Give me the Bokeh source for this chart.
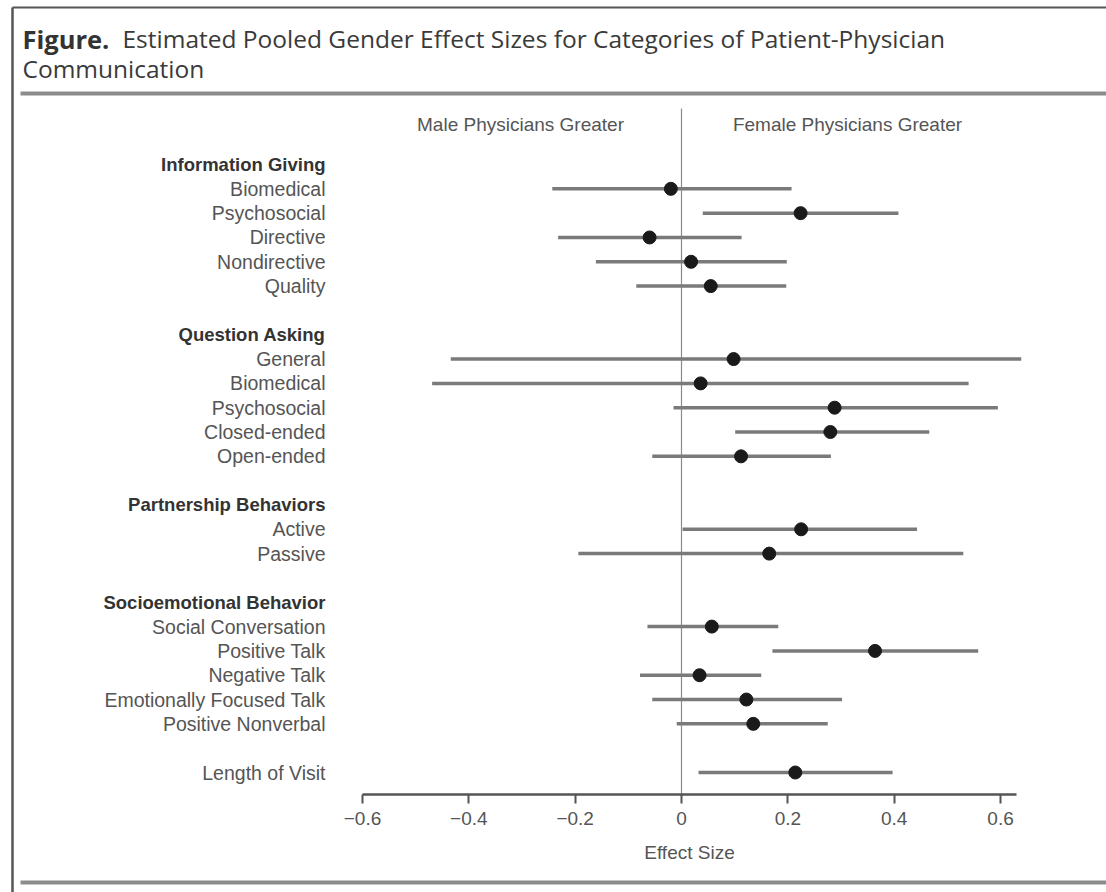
from bokeh.plotting import figure
from bokeh.models import ColumnDataSource, Range1d, LinearAxis, FixedTicker
from bokeh.core.properties import value
from bokeh.embed import file_html
from bokeh.resources import INLINE

# ---------------- data ----------------
title_bold = "Figure."
title_line1 = "Estimated Pooled Gender Effect Sizes for Categories of Patient-Physician"
title_line2 = "Communication"
side_left = "Male Physicians Greater"
side_right = "Female Physicians Greater"
x_label = "Effect Size"

group_names = ["Information Giving", "Question Asking", "Partnership Behaviors",
               "Socioemotional Behavior", None]
item_names = ["Biomedical", "Psychosocial", "Directive", "Nondirective", "Quality",
              "General", "Biomedical", "Psychosocial", "Closed-ended", "Open-ended",
              "Active", "Passive",
              "Social Conversation", "Positive Talk", "Negative Talk",
              "Emotionally Focused Talk", "Positive Nonverbal",
              "Length of Visit"]
item_group = [0, 0, 0, 0, 0, 1, 1, 1, 1, 1, 2, 2, 3, 3, 3, 3, 3, 4]
effect = [-0.020, 0.224, -0.060, 0.018, 0.055,
          0.098, 0.036, 0.288, 0.280, 0.112,
          0.225, 0.165,
          0.057, 0.364, 0.034, 0.122, 0.135,
          0.214]
ci_low = [-0.243, 0.040, -0.232, -0.161, -0.085,
          -0.434, -0.469, -0.015, 0.101, -0.055,
          0.002, -0.194,
          -0.064, 0.171, -0.078, -0.055, -0.009,
          0.032]
ci_high = [0.207, 0.408, 0.113, 0.198, 0.197,
           0.639, 0.540, 0.595, 0.466, 0.281,
           0.443, 0.530,
           0.182, 0.558, 0.150, 0.302, 0.275,
           0.397]
ticks = [-0.6, -0.4, -0.2, 0, 0.2, 0.4, 0.6]
tick_labels = ["\u22120.6", "\u22120.4", "\u22120.2", "0", "0.2", "0.4", "0.6"]

# ---------------- row layout ----------------
header_rows, header_text = [], []
item_rows = []
row = 0
for g, name in enumerate(group_names):
    if name is not None:
        header_rows.append(row)
        header_text.append(name)
        row += 1
    for k, gi in enumerate(item_group):
        if gi == g:
            item_rows.append(row)
            row += 1
    row += 1

# ---------------- geometry helpers (page pixels -> data) ----------------
W, H = 1106, 892
OX, OY = 0, 0
XZERO, XPER = 681.0, 531.7
YROW0, YSTEP = 164.0, 24.32


def X(px):
    return (px - XZERO) / XPER


def Y(py):
    return (py - YROW0) / YSTEP


p = figure(width=W, height=H, output_backend="svg", toolbar_location=None, tools="",
           x_range=Range1d(X(OX), X(OX + W)), y_range=Range1d(Y(OY + H), Y(OY)),
           x_axis_location=None, y_axis_location=None, min_border=0)
p.outline_line_color = None
p.background_fill_color = "white"
p.border_fill_color = "white"
for g in p.grid:
    g.visible = False

LABEL_FONT = value("Liberation Sans")
TITLE_FONT = value("Open Sans")

# frame decorations
p.segment(x0=[X(12)], y0=[Y(7)], x1=[X(12)], y1=[Y(OY + H)], line_color="#555555", line_width=2.5)
p.segment(x0=[X(12)], y0=[Y(7)], x1=[X(OX + W)], y1=[Y(7)], line_color="#555555", line_width=2)
p.segment(x0=[X(20)], y0=[Y(93)], x1=[X(OX + W)], y1=[Y(93)], line_color="#8c8c8c", line_width=4)
p.segment(x0=[X(20)], y0=[Y(882)], x1=[X(OX + W)], y1=[Y(882)], line_color="#8c8c8c", line_width=4)

# title
p.text(x=[X(22)], y=[Y(38)], text=[title_bold], text_font=TITLE_FONT,
       text_font_style="bold", text_font_size="25.5px", text_color="#333333",
       text_baseline="alphabetic", text_align="left")
p.text(x=[X(122)], y=[Y(38)], text=[title_line1], text_font=TITLE_FONT,
       text_font_size="24.5px", text_color="#3a3a3a",
       text_baseline="alphabetic", text_align="left")
p.text(x=[X(22)], y=[Y(68)], text=[title_line2], text_font=TITLE_FONT,
       text_font_size="24.5px", text_color="#3a3a3a",
       text_baseline="alphabetic", text_align="left")

# side headers
p.text(x=[X(520), X(847)], y=[Y(124), Y(124)], text=[side_left, side_right],
       text_font=LABEL_FONT, text_font_size="19px", text_color="#555555",
       text_align="center", text_baseline="middle")

# zero reference line
p.segment(x0=[0], y0=[Y(108)], x1=[0], y1=[Y(794)], line_color="#8a8a8a", line_width=1.2)

# row labels
p.text(x=[X(325)] * len(header_rows), y=header_rows, text=header_text,
       text_font=LABEL_FONT, text_font_style="bold", text_font_size="18.5px",
       text_color="#333333", text_align="right", text_baseline="middle")

src = ColumnDataSource(dict(y=item_rows, name=item_names, est=effect, lo=ci_low, hi=ci_high,
                            lx=[X(325)] * len(item_rows)))
p.text(x="lx", y="y", text="name", source=src,
       text_font=LABEL_FONT, text_font_size="19.5px", text_color="#555555",
       text_align="right", text_baseline="middle")

# CIs and estimates
p.segment(x0="lo", y0="y", x1="hi", y1="y", source=src, line_color="#7a7a7a", line_width=3.5)
p.scatter(x="est", y="y", source=src, size=13, fill_color="#1a1a1a", line_color="#1a1a1a")

# x axis
ax = LinearAxis(ticker=FixedTicker(ticks=ticks), fixed_location=Y(794),
                bounds=(-0.6, X(1016)))
ax.major_label_overrides = {t: l for t, l in zip(ticks, tick_labels)}
ax.axis_line_color = "#555555"
ax.axis_line_width = 2.5
ax.major_tick_line_color = "#555555"
ax.major_tick_line_width = 2
ax.major_tick_out = 9
ax.major_tick_in = 0
ax.minor_tick_out = 0
ax.minor_tick_in = 0
ax.major_label_standoff = 8
ax.major_label_text_font = "Liberation Sans"
ax.major_label_text_font_size = "19px"
ax.major_label_text_color = "#555555"
ax.axis_label = x_label
ax.axis_label_text_font = "Liberation Sans"
ax.axis_label_text_font_size = "19px"
ax.axis_label_text_font_style = "normal"
ax.axis_label_text_color = "#555555"
ax.axis_label_standoff = 14
p.add_layout(ax, "below")

open("out.html", "w").write(file_html(p, INLINE))
